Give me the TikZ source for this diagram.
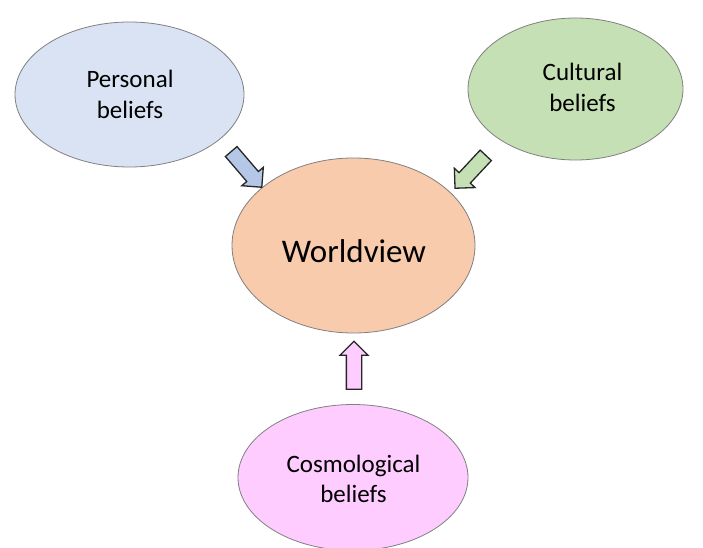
\documentclass[tikz,border=0pt]{standalone}
\usepackage{fontspec}
\setmainfont{Carlito}
\usetikzlibrary{shapes.geometric,shapes.arrows}
\definecolor{persfill}{HTML}{DAE3F3}
\definecolor{cultfill}{HTML}{C5E0B4}
\definecolor{worldfill}{HTML}{F8CBAD}
\definecolor{cosmofill}{HTML}{FFCCFF}
\definecolor{bluearrow}{HTML}{B4C7E7}
\definecolor{greenarrow}{HTML}{C5E0B4}
\definecolor{pinkarrow}{HTML}{FFCCFF}
\definecolor{edgegray}{HTML}{808080}
\tikzset{
  oval/.style={ellipse, draw=edgegray, line width=0.8pt, inner sep=0pt},
  lbl/.style={align=center, font=\fontsize{25}{30.5}\selectfont, text=black},
  blockarrow/.style={single arrow, draw=black!85, line width=1.3pt, inner sep=7pt,
    single arrow head extend=6.5pt, single arrow head indent=0pt, text width=0pt}
}
\begin{document}
\begin{tikzpicture}[x=1pt,y=1pt]
\useasboundingbox (0,0) rectangle (703,547);
% ellipses
\node[oval, fill=persfill, minimum width=229pt, minimum height=145pt] (pers) at (129.5,452.5) {};
\node[oval, fill=cultfill, minimum width=215pt, minimum height=142pt] (cult) at (575.5,458) {};
\node[oval, fill=worldfill, minimum width=243pt, minimum height=175pt] (world) at (353.5,301.5) {};
\node[oval, fill=cosmofill, minimum width=230pt, minimum height=146pt] (cosmo) at (353,69.5) {};
% labels
\node[lbl] (perst) at (130,452.5) {Personal\\beliefs};
\node[lbl] (cultt) at (582.5,459.5) {Cultural\\beliefs};
\node[lbl, font=\fontsize{33}{38}\selectfont] (worldt) at (354,295.5) {Worldview};
\node[lbl] (cosmot) at (353.5,68) {Cosmological\\beliefs};
% block arrows
\node[blockarrow, fill=bluearrow, minimum height=47pt, rotate=-49.4] (a1) at (244,380.5) {};
\node[blockarrow, fill=greenarrow, minimum height=45pt, rotate=-133] (a2) at (473,378) {};
\node[blockarrow, fill=pinkarrow, minimum height=48pt, rotate=90] (a3) at (354,178) {};
\end{tikzpicture}
\end{document}
